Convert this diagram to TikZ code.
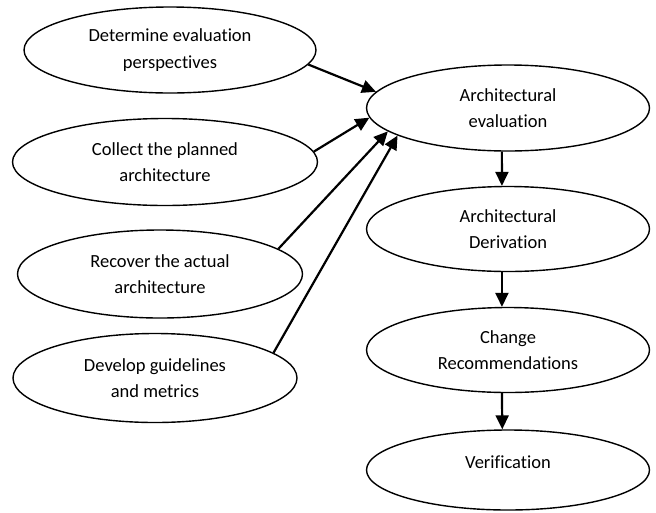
\documentclass[tikz,border=0pt]{standalone}
\usepackage{fontspec}
\setmainfont{Carlito}[Ligatures=NoCommon]
\usetikzlibrary{shapes.geometric,arrows.meta}

\begin{document}
\begin{tikzpicture}[x=1pt,y=-1pt,
  font=\fontsize{18.5}{26.7}\selectfont,
  proc/.style={ellipse, draw, line width=1.4pt, inner sep=0pt, align=center},
  arr/.style={-{Triangle[length=14pt,width=13pt]}, line width=2.2pt}]

\useasboundingbox (0,0) rectangle (656,512);

% Input steps (left column)
\node[proc, minimum width=292pt, minimum height=86pt] (det) at (170,50) {Determine evaluation\\perspectives};
\node[proc, minimum width=305pt, minimum height=87pt] (col) at (165,162) {Collect the planned\\architecture};
\node[proc, minimum width=285pt, minimum height=88pt] (rec) at (160,274) {Recover the actual\\architecture};
\node[proc, minimum width=284pt, minimum height=89pt] (dev) at (155,378) {Develop guidelines\\and metrics};

% Main flow (right column)
\node[proc, minimum width=283pt, minimum height=86pt] (eval) at (508,108) {Architectural\\evaluation};
\node[proc, minimum width=283pt, minimum height=85pt] (der) at (508,229) {Architectural\\Derivation};
\node[proc, minimum width=283pt, minimum height=85pt] (chg) at (508,350) {Change\\Recommendations};
\node[proc, minimum width=283pt, minimum height=80pt, text depth=16pt] (ver) at (508,470) {Verification};

% Inputs into the evaluation
\draw[arr] (det.-6) -- (eval.173);
\draw[arr] (col.4) -- (eval.184);
\draw[arr] (rec.12) -- (eval.191);
\draw[arr] (dev.12) -- (eval.194);

% Steps down the right column
\draw[arr] (eval.-98) -- (der.98);
\draw[arr] (der.-98) -- (chg.98);
\draw[arr] (chg.-98) -- (ver.98);

\end{tikzpicture}
\end{document}
